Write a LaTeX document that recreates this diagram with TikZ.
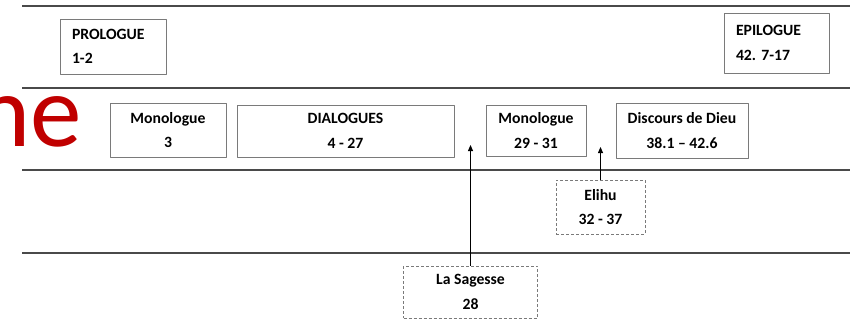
\documentclass[tikz,border=0pt]{standalone}
\usepackage{fontspec}
\setmainfont{Carlito}
\usetikzlibrary{arrows.meta}
\definecolor{ruleline}{HTML}{4A4A4A}
\definecolor{boxedge}{HTML}{7A7A7A}
\definecolor{titlered}{HTML}{C00000}
\frenchspacing

\begin{document}
\begin{tikzpicture}[
  x=0.3mm,
  y=-0.3mm,
  line join=round,
  band/.style={draw=ruleline,line width=0.6mm},
  part/.style={draw=boxedge,line width=0.3mm,inner sep=0pt,align=center,
    font=\bfseries\fontsize{13.4}{21}\selectfont},
  sidepart/.style={part,align=left,inner xsep=3.5mm,text width=24.6mm},
  insert/.style={part,dash pattern=on 0.9mm off 0.6mm},
  link/.style={draw=black,line width=0.25mm,-{Triangle[length=1.8mm,width=1.5mm]}}
]
  % Page frame: the picture keeps the slide's proportions.
  \useasboundingbox (0,0) rectangle (856,334);
  \clip (0,0) rectangle (856,334);

  % Clipped title fragment at the left edge.
  \node[anchor=base east,inner sep=0pt,text=titlered,
    font=\fontsize{88}{88}\selectfont] (title) at (82,146) {ne};

  % Horizontal bands separating the levels.
  \foreach \y in {6,88,170,253} {
    \draw[band] (22,\y) -- (850,\y);
  }

  % Frame of the book.
  \node[sidepart,minimum width=31.8mm,minimum height=16.5mm] (prologue) at (113,46.5)
    {PROLOGUE\\1-2};
  \node[sidepart,minimum width=31.2mm,minimum height=18mm] (epilogue) at (777,43)
    {EPILOGUE\\42. 7-17};

  % Main body.
  \node[part,minimum width=34.8mm,minimum height=16.2mm] (mono1) at (168,130)
    {Monologue\\3};
  \node[part,minimum width=65.1mm,minimum height=15.6mm] (dialogues) at (345.5,131)
    {DIALOGUES\\4 - 27};
  \node[part,minimum width=30mm,minimum height=15.3mm] (mono2) at (536,130.5)
    {Monologue\\29 - 31};
  \node[part,minimum width=39.6mm,minimum height=16.5mm] (dieu) at (682,130.5)
    {Discours de Dieu\\38.1 -- 42.6};

  % Inserted pieces, dashed.
  \node[insert,minimum width=26.7mm,minimum height=16.2mm] (elihu) at (600.5,207)
    {Elihu\\32 - 37};
  \node[insert,minimum width=40.2mm,minimum height=15.6mm] (sagesse) at (470.5,292)
    {La Sagesse\\28};

  % Where the inserts go.
  \coordinate (sagessetip) at (470.5,145);
  \coordinate (elihutip) at (600.5,147);
  \draw[link] (sagesse.north) -- (sagessetip);
  \draw[link] (elihu.north) -- (elihutip);
\end{tikzpicture}
\end{document}
